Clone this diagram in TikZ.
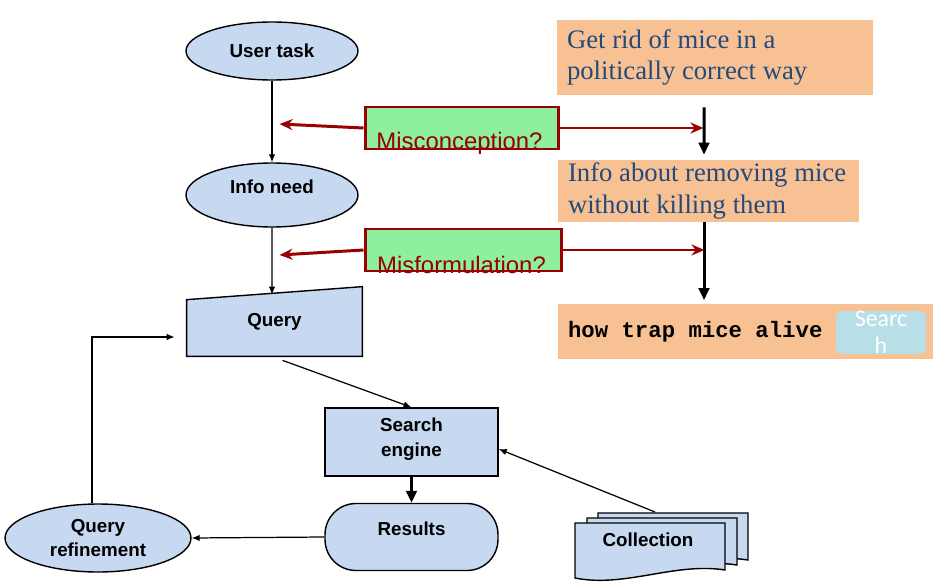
\documentclass[tikz,border=0pt]{standalone}
\usepackage{fontspec}
\setmainfont{Liberation Sans}
\setmonofont{Liberation Mono}
\newfontfamily\notefont{Liberation Serif}
\newfontfamily\buttonfont{Carlito}
\newcommand\typedfont{\ttfamily\bfseries\fontsize{12.7}{15}\selectfont\spaceskip=0.6em\relax}
\definecolor{FlowBlue}{HTML}{C6D9F0}
\definecolor{FlowBlack}{HTML}{000000}
\definecolor{NoteOrange}{HTML}{F8C194}
\definecolor{NoteText}{HTML}{244A7C}
\definecolor{MissGreen}{HTML}{8EF09E}
\definecolor{MissRed}{HTML}{990000}
\definecolor{ButtonBlue}{HTML}{B8DEE8}
\usepackage{tikz}
\usetikzlibrary{shapes.geometric, arrows.meta, positioning, calc, backgrounds}
\tikzset{
    flowbox/.style={
        draw=FlowBlack,
        thick,
        fill=FlowBlue,
        minimum width=3.46cm,
        minimum height=1.36cm,
        font=\fontsize{10.7}{14}\selectfont\bfseries,
        align=center,
        inner sep=0pt
    },
    flowoval/.style={
        ellipse,
        draw=FlowBlack,
        thick,
        fill=FlowBlue,
        minimum width=3.44cm,
        minimum height=1.2cm,
        font=\fontsize{10.7}{13.7}\selectfont\bfseries,
        align=center,
        inner sep=0pt
    },
    flowtext/.style={
        font=\fontsize{10.7}{14}\selectfont\bfseries,
        align=center,
        inner sep=0pt
    },
    raised/.style={
        text height=0.28cm,
        text depth=0.36cm
    },
    notebox/.style={
        fill=NoteOrange,
        text=NoteText,
        font=\notefont\fontsize{15.2}{17.8}\selectfont,
        align=flush left,
        inner xsep=0.2cm,
        inner ysep=0pt
    },
    missbox/.style={
        draw=MissRed,
        line width=1.7pt,
        fill=MissGreen,
        minimum width=3.88cm,
        minimum height=0.84cm
    },
    misstext/.style={
        text=MissRed,
        font=\fontsize{13.6}{16}\selectfont,
        inner sep=0pt
    },
    button/.style={
        fill=ButtonBlue,
        rounded corners=0.12cm,
        minimum width=1.8cm,
        minimum height=0.78cm,
        text=white,
        font=\buttonfont\fontsize{13.6}{15.4}\selectfont,
        align=center,
        inner sep=0pt
    },
    docshape/.style={
        draw=FlowBlack,
        thick,
        fill=FlowBlue
    },
    arrow/.style={
        -{Latex[length=1.6mm,width=1.3mm]},
        line width=0.7pt,
        FlowBlack
    },
    bigarrow/.style={
        -{Triangle[length=2.4mm,width=2.1mm]},
        line width=1.7pt,
        FlowBlack
    },
    redarrow/.style={
        -{Stealth[length=2.6mm,width=2.2mm]},
        line width=1.7pt,
        MissRed
    }
}

\begin{document}
\begin{tikzpicture}[x=0.02cm, y=-0.02cm]
    \useasboundingbox (0,0) rectangle (950,588);

    % Main flow
    \node[flowoval, minimum height=1.16cm] (user) at (272,51) {User task};
    \node[flowoval, raised, minimum height=1.28cm] (info) at (272,195) {Info need};
    \node[flowtext, raised, minimum width=3.5cm, minimum height=1.12cm] (query) at (274.5,328) {Query};
    \begin{scope}[on background layer]
        \filldraw[docshape] (query.south west) -- (query.south east)
            -- ([yshift=0.26cm]query.north east) -- (query.north west) -- cycle;
    \end{scope}
    \node[flowbox, text height=0.77cm, text depth=0.21cm] (search) at (411.5,442) {Search\\engine};
    \node[flowbox, raised, minimum height=1.34cm, rounded corners=0.62cm] (results) at (411.5,537) {Results};
    \node[flowoval, minimum width=3.72cm, minimum height=1.36cm] (refine) at (98,538) {Query\\refinement};

    % Collection
    \foreach \dx/\dy in {23/-10, 12/-5, 0/0} {
        \filldraw[docshape] ($(575,523)+(\dx,\dy)$) -- ++(150,0) -- ++(0,47)
            .. controls +(-50,-8) and +(50,10) .. ++(-150,8) -- cycle;
    }
    \node[flowtext] (coll) at (648,540) {Collection};
    \coordinate (colltop) at (655,512);

    \draw[arrow] (user) -- (info);
    \draw[arrow] (info) -- ([xshift=-0.05cm,yshift=0.1cm]query.north);
    \draw[arrow] ([xshift=0.16cm,yshift=-0.08cm]query.south) -- (search.north);
    \draw[bigarrow] (search) -- (results);
    \draw[arrow] (colltop) -- ([yshift=-0.14cm]search.east);
    \draw[arrow] (results.west) -- (refine.east);
    \draw[arrow] ([xshift=-0.12cm]refine.north) |- ([xshift=-0.24cm,yshift=-0.18cm]query.west);

    % Example
    \node[notebox, minimum width=6.32cm, minimum height=1.5cm, text width=5.92cm] (task) at (715,57.5)
        {Get rid of mice in a\\politically correct way};
    \node[notebox, minimum width=6.02cm, minimum height=1.24cm, text width=5.62cm] (need) at (708.5,191)
        {Info about removing mice\\without killing them};
    \node[notebox, minimum width=7.5cm, minimum height=1.1cm, text width=7.1cm,
          font=\typedfont, text=FlowBlack] (typed) at (745.5,331.5)
        {how trap mice alive};
    \node[button] (btn) at (881,332.5) {Searc\\h};

    \draw[bigarrow] ([xshift=-0.22cm,yshift=-0.24cm]task.south) -- ([xshift=-0.09cm,yshift=0.1cm]need.north);
    \draw[bigarrow, shorten >=2pt] ([xshift=-0.09cm]need.south) -- ([xshift=-0.09cm]need.south |- typed.north);

    % Mistakes
    \node[missbox] (mc) at (462,128) {};
    \node[misstext] (mctext) at ([xshift=-0.05cm,yshift=-0.3cm]mc) {Misconception?};
    \node[missbox, minimum width=3.94cm] (mf) at (463.5,250) {};
    \node[misstext] (mftext) at ([xshift=-0.04cm,yshift=-0.3cm]mf) {Misformulation?};

    \draw[redarrow] (mc.west) -- ([xshift=-1.68cm,yshift=0.08cm]mc.west);
    \draw[redarrow] (mc.east) -- ([xshift=2.86cm]mc.east);
    \draw[redarrow] (mf.west) -- ([xshift=-1.68cm,yshift=-0.1cm]mf.west);
    \draw[redarrow] (mf.east) -- ([xshift=2.82cm]mf.east);
\end{tikzpicture}
\end{document}
